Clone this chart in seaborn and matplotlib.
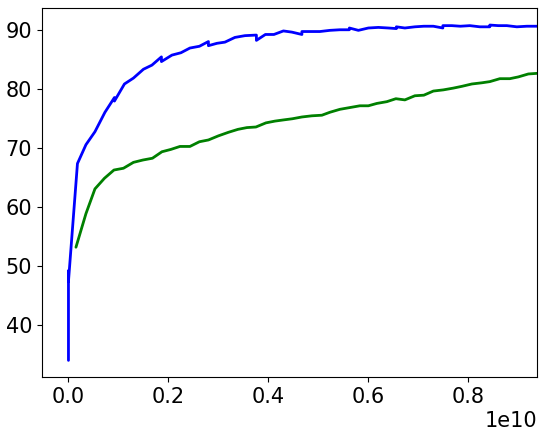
import matplotlib
matplotlib.use("Agg")
import matplotlib.pyplot as plt
from matplotlib.ticker import MultipleLocator
import pandas as pd
import seaborn as sns

# x values are in units of 1e10
blue_x = [0.000, 0.000, 0.000, 0.018, 0.035, 0.053, 0.073, 0.092, 0.092, 0.112,
          0.130, 0.150, 0.167, 0.186, 0.186, 0.207, 0.225, 0.243, 0.262, 0.280,
          0.280, 0.297, 0.313, 0.333, 0.353, 0.376, 0.376, 0.394, 0.411, 0.430,
          0.447, 0.467, 0.467, 0.484, 0.503, 0.523, 0.543, 0.562, 0.562, 0.580,
          0.600, 0.620, 0.640, 0.656, 0.656, 0.673, 0.693, 0.711, 0.730, 0.749,
          0.749, 0.767, 0.784, 0.803, 0.823, 0.843, 0.843, 0.860, 0.877, 0.897,
          0.917, 0.937]
blue_y = [34.0, 49.2, 47.4, 67.4, 70.6, 72.8, 76.1, 78.6, 78.0, 80.9,
          81.9, 83.4, 84.1, 85.5, 84.7, 85.8, 86.2, 87.0, 87.3, 88.1,
          87.4, 87.8, 88.0, 88.8, 89.1, 89.2, 88.3, 89.3, 89.3, 89.9,
          89.7, 89.3, 89.8, 89.8, 89.8, 90.0, 90.1, 90.1, 90.4, 90.0,
          90.4, 90.5, 90.4, 90.3, 90.6, 90.4, 90.6, 90.7, 90.7, 90.4,
          90.8, 90.8, 90.7, 90.8, 90.6, 90.6, 90.9, 90.8, 90.8, 90.6,
          90.7, 90.7]

green_x = [0.015, 0.035, 0.053, 0.072, 0.091, 0.110, 0.130, 0.149, 0.168, 0.187,
           0.205, 0.223, 0.243, 0.262, 0.280, 0.300, 0.320, 0.339, 0.357, 0.375,
           0.395, 0.413, 0.430, 0.448, 0.467, 0.487, 0.507, 0.523, 0.543, 0.563,
           0.583, 0.600, 0.617, 0.637, 0.655, 0.673, 0.693, 0.711, 0.730, 0.750,
           0.770, 0.787, 0.807, 0.827, 0.843, 0.863, 0.883, 0.900, 0.920, 0.937]
green_y = [53.2, 58.9, 63.1, 64.9, 66.3, 66.6, 67.6, 68.0, 68.3, 69.4,
           69.8, 70.3, 70.3, 71.1, 71.4, 72.1, 72.7, 73.2, 73.5, 73.6,
           74.3, 74.6, 74.8, 75.0, 75.3, 75.5, 75.6, 76.1, 76.6, 76.9,
           77.2, 77.2, 77.6, 77.9, 78.4, 78.2, 78.9, 79.0, 79.7, 79.9,
           80.2, 80.5, 80.9, 81.1, 81.3, 81.8, 81.8, 82.1, 82.6, 82.7]

SCALE = 1e10

sns.set_style("ticks")
plt.rcParams["font.family"] = ["DejaVu Sans"]
plt.rcParams["text.color"] = "black"
plt.rcParams["xtick.color"] = "black"
plt.rcParams["ytick.color"] = "black"
plt.rcParams["axes.edgecolor"] = "black"

blue_df = pd.DataFrame({"x": [v * SCALE for v in blue_x], "y": blue_y})
green_df = pd.DataFrame({"x": [v * SCALE for v in green_x], "y": green_y})

fig, ax = plt.subplots(figsize=(5.45, 4.36), dpi=100)
fig.subplots_adjust(left=0.077, right=0.985, top=0.981, bottom=0.135)

sns.lineplot(data=blue_df, x="x", y="y", sort=False, estimator=None,
             color="blue", linewidth=2, ax=ax)
sns.lineplot(data=green_df, x="x", y="y", sort=False, estimator=None,
             color="green", linewidth=2, ax=ax)

ax.set_xlim(-0.053 * SCALE, 0.937 * SCALE)
ax.xaxis.set_major_locator(MultipleLocator(0.2 * SCALE))
ax.yaxis.set_major_locator(MultipleLocator(10))
ax.ticklabel_format(axis="x", style="sci", scilimits=(10, 10))
ax.set_xlabel("")
ax.set_ylabel("")
ax.tick_params(labelsize=15, colors="black")
ax.xaxis.get_offset_text().set_fontsize(15)
ax.xaxis.get_offset_text().set_color("black")
for side in ["top", "right", "left", "bottom"]:
    ax.spines[side].set_visible(True)
    ax.spines[side].set_color("black")

fig.savefig("out.png", dpi=100)
